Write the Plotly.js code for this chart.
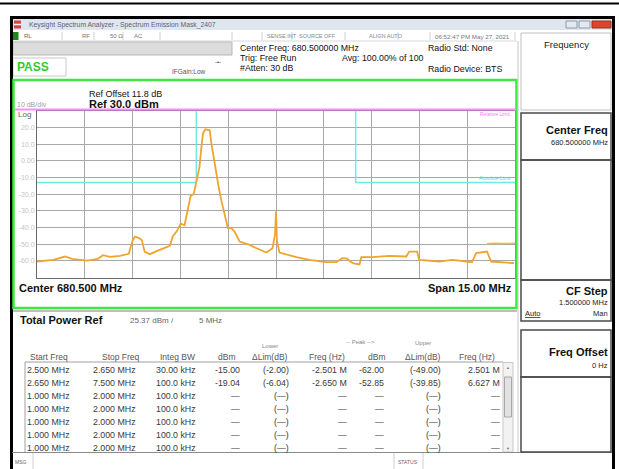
<!DOCTYPE html>
<html>
<head>
<meta charset="utf-8">
<script src="https://cdn.plot.ly/plotly-3.0.1.min.js"></script>
<style>html,body{margin:0;padding:0;background:#fff;}#chart{width:619px;height:469px;}</style>
</head>
<body>
<div id="chart"></div>
<script>
// ---- trace data (frequency in MHz, level in dBm) ----
var freqMHz = [673.00,673.51,673.88,674.10,674.57,674.91,675.07,675.29,675.60,675.88,675.99,676.07,676.19,676.29,676.38,676.54,676.85,677.17,677.26,677.38,677.51,677.63,677.73,677.82,677.92,678.01,678.10,678.16,678.21,678.28,678.36,678.42,678.47,678.57,678.68,678.78,678.89,678.99,679.10,679.20,679.36,679.67,679.89,680.20,680.39,680.47,680.50,680.53,680.61,681.14,681.55,682.08,682.39,682.58,682.74,682.83,682.93,683.12,683.18,683.52,684.05,684.59,684.68,684.93,684.99,685.62,686.03,686.65,686.78,687.12,687.25,687.59,687.97];
var levelDbm = [-60.4,-59.4,-57.4,-58.8,-59.8,-58.8,-56.6,-57.6,-57.0,-55.8,-48.4,-45.4,-46.2,-47.6,-54.6,-56.0,-53.4,-51.0,-45.4,-42.4,-37.6,-38.6,-29.4,-21.0,-19.8,-12.0,-3.6,8.6,16.6,19.0,18.6,18.4,10.8,-1.4,-13.4,-23.4,-33.4,-40.4,-40.4,-42.4,-48.4,-50.4,-52.4,-55.0,-52.4,-44.0,-30.4,-48.0,-55.0,-57.8,-59.4,-60.8,-60.8,-58.4,-58.6,-60.4,-61.6,-62.2,-57.8,-57.8,-57.0,-57.4,-54.4,-54.4,-59.4,-60.4,-59.4,-60.8,-55.4,-54.4,-60.4,-60.8,-61.4];
var freq2MHz = [687.12,687.35,687.65,688.00];
var level2Dbm = [-49.8,-49.4,-49.6,-49.5];
var limitFreq = [673,678,678,683,683,688];
var limitDbm = [-13,-13,40,40,-13,-13];
var yTickVals = [-60,-50,-40,-30,-20,-10,0,10,20];
var yTickText = ['-60.0','-50.0','-40.0','-30.0','-20.0','-10.0','0.00','10.0','20.0'];

// ---- table data ----
var startFreq = ['2.500 MHz','2.650 MHz','1.000 MHz','1.000 MHz','1.000 MHz','1.000 MHz','1.000 MHz'];
var stopFreq  = ['2.650 MHz','7.500 MHz','2.000 MHz','2.000 MHz','2.000 MHz','2.000 MHz','2.000 MHz'];
var integBW   = ['30.00 kHz','100.0 kHz','100.0 kHz','100.0 kHz','100.0 kHz','100.0 kHz','100.0 kHz'];
var lowerDbm  = ['-15.00','-19.04','—','—','—','—','—'];
var lowerDelta= ['(-2.00)','(-6.04)','(—)','(—)','(—)','(—)','(—)'];
var lowerFreq = ['-2.501 M','-2.650 M','—','—','—','—','—'];
var upperDbm  = ['-62.00','-52.85','—','—','—','—','—'];
var upperDelta= ['(-49.00)','(-39.85)','(—)','(—)','(—)','(—)','(—)'];
var upperFreq = ['2.501 M','6.627 M','—','—','—','—','—'];
var headers   = ['Start Freq','Stop Freq','Integ BW','dBm','ΔLim(dB)','Freq (Hz)','dBm','ΔLim(dB)','Freq (Hz)'];

var W = 619, H = 469;
var FONT = 'Liberation Sans, Arial, sans-serif';
function px(x){ return x / W; }
function py(y){ return 1 - y / H; }
var ann = [];
function T(x, y, text, size, color, anchor){
  ann.push({xref:'paper', yref:'paper', x:px(x), y:py(y), text:text, showarrow:false,
    xanchor:anchor||'left', yanchor:'middle', font:{family:FONT, size:size, color:color||'#111'}});
}
var shp = [];
function R(x0,y0,x1,y1,line,lw,fill){
  shp.push({type:'rect', xref:'paper', yref:'paper', x0:px(x0), y0:py(y0), x1:px(x1), y1:py(y1),
    line:{color:line||'rgba(0,0,0,0)', width:lw||0}, fillcolor:fill||'rgba(0,0,0,0)', layer:'above'});
}
function L(x0,y0,x1,y1,color,lw){
  shp.push({type:'line', xref:'paper', yref:'paper', x0:px(x0), y0:py(y0), x1:px(x1), y1:py(y1),
    line:{color:color, width:lw||1}, layer:'above'});
}

// ---- window chrome ----
R(0,2.5,619,4.5,null,0,'#000');
R(12.5,19,612.5,30,null,0,'#dfe6ef');
R(14,20.5,21,28.5,null,0,'#d24a3c'); L(14,24.5,21,24.5,'#fff',1.5);
R(566,21,577,28,'#8d99aa',1,'#e4e9f0');
R(579,21,590,28,'#8d99aa',1,'#e4e9f0');
R(592,21,611,28,'#9b3324',1,'#d9472b');
T(27,24.5,'Keysight Spectrum Analyzer - Spectrum Emission Mask_2407',6.8,'#5c6079');
// status row
R(12.5,32,18.5,40,null,0,'#168c16');
L(12.5,41,517,41,'#d8d8d8',1);
[62,94,123,160,232,262,292,345,398,430,515].forEach(function(x){ L(x,32,x,40,'#d0d0d0',1); });
T(22,36,'RL',6,'#666'); T(80,36,'RF',6,'#777'); T(108,36,'50 Ω',6,'#777'); T(132,36,'AC',6,'#777');
T(265,36,'SENSE:INT',5.5,'#888'); T(297,36,'SOURCE OFF',5.5,'#888');
T(367,36,'ALIGN AUTO',5.5,'#888'); T(433,36,'06:52:47 PM May 27, 2021',6.2,'#777');
R(13,42,232,55,'#b8b8b8',1,'#dcdcdc');
R(13,58,66,76,'#c8c8c8',1,null);
T(15,67,'<b>PASS</b>',12,'#2dcc2d');
T(170,71,'IFGain:Low',6.5,'#555');
T(213,62,'-•-',6,'#333');
T(238,48,'Center Freq: 680.500000 MHz',8.8,'#111');
T(238,58,'Trig: Free Run',8.8,'#111');
T(238,68,'#Atten: 30 dB',8.8,'#111');
T(340,58,'Avg: 100.00% of 100',8.8,'#111');
T(426,48,'Radio Std: None',8.8,'#111');
T(426,69,'Radio Device: BTS',8.8,'#111');

// ---- window frame ----
R(11.5,17.5,613.5,471,'#000',3,null);

// ---- plot frame & labels ----
R(13.5,80,516.5,308,'#3ee83e',2.5,null);
L(15,109.5,516,109.5,'#ff8cff',2);
T(87,94,'Ref Offset 11.8 dB',9,'#111');
T(87,104,'<b>Ref 30.0 dBm</b>',11,'#111');
T(15,104,'10 dB/div',7,'#a0a0a0');
T(16,114,'Log',8,'#666');
T(513,113.5,'Relative Limit',5,'#ff77ff','right');
T(513,178,'Absolute Limit',5,'#4fd9d9','right');
T(17,288,'<b>Center 680.500 MHz</b>',11,'#111');
T(514,288,'<b>Span 15.00 MHz</b>',11,'#111','right');

// ---- lower panel ----
L(13,311,517,311,'#a8a8a8',1.5);
T(18,320,'<b>Total Power Ref</b>',11,'#111');
T(128,320,'25.37 dBm /',8,'#666');
T(197,320,'5 MHz',8,'#666');
T(270,346,'Lower',6,'#888','center');
T(360,342,'-- Peak -->',6,'#888','center');
T(423,343,'Upper',6,'#888','center');
var colRight = [72,142,197,237,290,347,387,443,497];
headers.forEach(function(h,i){ T(i===0?28:colRight[i],357,h,8.5,'#555',i===0?'left':'right'); });
L(25,362,503,362,'#a0a0a0',1);
L(25,362,25,452,'#a0a0a0',1);
R(503,362.5,513,452,'#c8c8c8',1,'#f2f2f2');
R(504.5,377,511.5,417,'#a8a8a8',1,'#e2e2e2');
T(508,367,'▲',4,'#777','center'); T(508,448,'▼',4,'#777','center');
var rowY = [370,383,396,409,422,435,448];
var valRight = [72,138,198,242,291,349,386,443,502];
var cols = [startFreq,stopFreq,integBW,lowerDbm,lowerDelta,lowerFreq,upperDbm,upperDelta,upperFreq];
rowY.forEach(function(y,r){
  cols.forEach(function(c,i){ T(valRight[i],y,c[r],8.8,'#3a3a3a','right'); });
});
// message bar
L(12,452.5,612,452.5,'#8a8a8a',1);
[33,394,423].forEach(function(x){ L(x,453,x,469,'#cfcfcf',1); });
T(13,462,'MSG',5,'#666'); T(396,462,'STATUS',5,'#666');

// ---- right softkey panel ----
L(518,41,518,452,'#c8c8c8',1);
R(521,33,611,110,'#c0c0c0',1,null);
T(566,45,'Frequency',9.5,'#222','center');
R(521,113,611,160,'#4a4a4a',1.5,null);
R(521,160,611,280,'#4a4a4a',1.5,null);
R(521,280,611,321,'#4a4a4a',1.5,null);
R(521,330,611,377,'#4a4a4a',1.5,null);
R(521,377,611,452,'#4a4a4a',1.5,null);
T(610,130,'<b>Center Freq</b>',11,'#111','right');
T(610,142,'680.500000 MHz',7.5,'#222','right');
T(610,291,'<b>CF Step</b>',11,'#111','right');
T(610,302,'1.500000 MHz',7.5,'#222','right');
T(523,313,'<u>Auto</u>',7.5,'#222','left');
T(610,313,'Man',7.5,'#222','right');
T(610,352,'<b>Freq Offset</b>',11,'#111','right');
T(610,365,'0 Hz',7.5,'#222','right');

var traces = [
  {x:limitFreq, y:limitDbm, type:'scatter', mode:'lines', line:{color:'#6ee9e9', width:1.5}, hoverinfo:'skip'},
  {x:freq2MHz, y:level2Dbm, type:'scatter', mode:'lines', line:{color:'#f4b84a', width:1.5}, hoverinfo:'skip'},
  {x:freqMHz, y:levelDbm, type:'scatter', mode:'lines', line:{color:'#f0a42e', width:1.8}, hoverinfo:'skip'}
];

var layout = {
  width:W, height:H, margin:{l:0,r:0,t:0,b:0}, showlegend:false,
  paper_bgcolor:'#ffffff', plot_bgcolor:'#ffffff',
  font:{family:FONT},
  xaxis:{domain:[px(37),px(515)], range:[673,688], tick0:673, dtick:1.5, showgrid:true, gridcolor:'#a8a8a8', gridwidth:1,
    showline:true, mirror:true, linecolor:'#6a6a6a', linewidth:1, zeroline:false, showticklabels:false, ticks:''},
  yaxis:{domain:[py(277.5),py(111)], range:[-70,30], tickvals:yTickVals, ticktext:yTickText, showgrid:true, gridcolor:'#a8a8a8', gridwidth:1,
    showline:true, mirror:true, linecolor:'#6a6a6a', linewidth:1, zeroline:false, ticks:'',
    tickfont:{family:FONT, size:7, color:'#c4c4c4'}},
  shapes:shp, annotations:ann
};
Plotly.newPlot('chart', traces, layout, {staticPlot:true, displayModeBar:false});
</script>
</body>
</html>
